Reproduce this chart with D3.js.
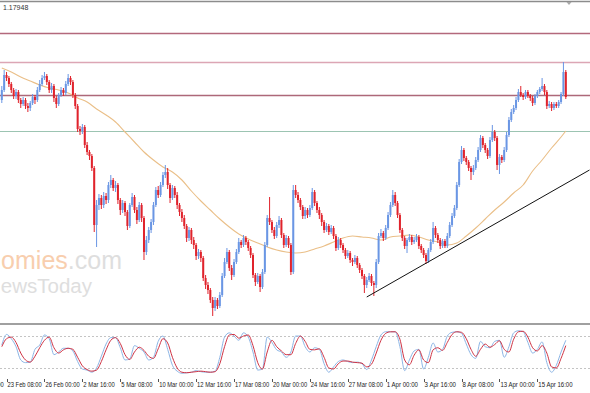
<!DOCTYPE html>
<html>
<head>
<meta charset="utf-8">
<script src="https://cdn.jsdelivr.net/npm/d3@7"></script>
<style>
  html, body { margin: 0; padding: 0; background: #fff; }
  svg { display: block; }
</style>
</head>
<body>
<div id="chart"></div>
<script>
// H4 candles, 239 bars (open of each bar = previous close)
const firstOpen = 1.1900;
const closes = [
  1.1910,1.1925,1.1922,1.1916,1.1910,1.1904,1.1908,1.1900,1.1896,1.1900,
  1.1894,1.1892,1.1897,1.1903,1.1900,1.1910,1.1916,1.1922,1.1924,1.1918,
  1.1910,1.1914,1.1902,1.1896,1.1905,1.1910,1.1907,1.1916,1.1922,1.1918,
  1.1905,1.1894,1.1871,1.1869,1.1873,1.1855,1.1848,1.1844,1.1832,1.1775,
  1.1795,1.1802,1.1795,1.1804,1.1800,1.1815,1.1820,1.1812,1.1815,1.1800,
  1.1790,1.1797,1.1788,1.1774,1.1795,1.1803,1.1790,1.1780,1.1795,1.1782,
  1.1748,1.1760,1.1770,1.1778,1.1795,1.1810,1.1805,1.1815,1.1825,1.1828,
  1.1815,1.1802,1.1812,1.1805,1.1795,1.1788,1.1782,1.1774,1.1762,1.1770,
  1.1760,1.1755,1.1744,1.1748,1.1742,1.1722,1.1715,1.1710,1.1700,1.1692,
  1.1700,1.1694,1.1705,1.1724,1.1738,1.1748,1.1732,1.1725,1.1738,1.1748,
  1.1758,1.1755,1.1762,1.1758,1.1752,1.1745,1.1725,1.1718,1.1724,1.1713,
  1.1728,1.1755,1.1782,1.1778,1.1770,1.1764,1.1775,1.1780,1.1765,1.1755,
  1.1762,1.1755,1.1728,1.1810,1.1805,1.1800,1.1793,1.1784,1.1790,1.1785,
  1.1792,1.1808,1.1797,1.1790,1.1785,1.1778,1.1770,1.1774,1.1768,1.1772,
  1.1764,1.1752,1.1760,1.1755,1.1750,1.1744,1.1747,1.1740,1.1738,1.1742,
  1.1735,1.1730,1.1724,1.1715,1.1720,1.1724,1.1717,1.1715,1.1738,1.1764,
  1.1767,1.1762,1.1772,1.1785,1.1795,1.1805,1.1797,1.1785,1.1770,1.1762,
  1.1754,1.1760,1.1763,1.1758,1.1760,1.1763,1.1754,1.1750,1.1745,1.1739,
  1.1750,1.1758,1.1772,1.1765,1.1760,1.1754,1.1759,1.1754,1.1764,1.1775,
  1.1784,1.1792,1.1815,1.1838,1.1850,1.1842,1.1838,1.1832,1.1828,1.1832,
  1.1840,1.1850,1.1862,1.1855,1.1850,1.1844,1.1860,1.1868,1.1862,1.1835,
  1.1843,1.1840,1.1850,1.1865,1.1880,1.1888,1.1892,1.1900,1.1908,1.1905,
  1.1903,1.1908,1.1904,1.1902,1.1897,1.1904,1.1908,1.1911,1.1914,1.1908,
  1.1894,1.1896,1.1892,1.1896,1.1894,1.1898,1.1906,1.1928,1.1903
];
const highs = [
  1.1914,1.1930,1.1928,1.1924,1.1918,1.1912,1.1911,1.1910,1.1902,1.1903,
  1.1902,1.1897,1.1899,1.1906,1.1905,1.1913,1.1920,1.1925,1.1928,1.1926,
  1.1920,1.1917,1.1916,1.1904,1.1907,1.1913,1.1912,1.1919,1.1926,1.1924,
  1.1920,1.1907,1.1896,1.1874,1.1876,1.1875,1.1858,1.1850,1.1846,1.1834,
  1.1800,1.1806,1.1805,1.1808,1.1807,1.1818,1.1825,1.1822,1.1819,1.1817,
  1.1802,1.1800,1.1799,1.1790,1.1797,1.1807,1.1805,1.1793,1.1798,1.1797,
  1.1784,1.1764,1.1773,1.1781,1.1798,1.1813,1.1814,1.1818,1.1828,1.1835,
  1.1832,1.1817,1.1815,1.1814,1.1808,1.1797,1.1791,1.1785,1.1776,1.1773,
  1.1772,1.1763,1.1757,1.1751,1.1750,1.1744,1.1725,1.1718,1.1712,1.1703,
  1.1703,1.1702,1.1708,1.1727,1.1742,1.1752,1.1750,1.1735,1.1741,1.1751,
  1.1762,1.1760,1.1765,1.1764,1.1760,1.1754,1.1747,1.1727,1.1727,1.1726,
  1.1731,1.1758,1.1785,1.1803,1.1780,1.1773,1.1778,1.1784,1.1782,1.1767,
  1.1765,1.1764,1.1757,1.1815,1.1815,1.1808,1.1802,1.1795,1.1793,1.1792,
  1.1795,1.1812,1.1810,1.1799,1.1793,1.1787,1.1780,1.1777,1.1776,1.1775,
  1.1774,1.1766,1.1763,1.1762,1.1757,1.1752,1.1750,1.1749,1.1742,1.1745,
  1.1744,1.1737,1.1732,1.1726,1.1723,1.1727,1.1726,1.1719,1.1741,1.1767,
  1.1771,1.1769,1.1775,1.1788,1.1798,1.1810,1.1808,1.1799,1.1787,1.1772,
  1.1764,1.1762,1.1766,1.1765,1.1763,1.1766,1.1765,1.1756,1.1752,1.1747,
  1.1752,1.1761,1.1778,1.1774,1.1767,1.1762,1.1761,1.1761,1.1767,1.1778,
  1.1787,1.1795,1.1818,1.1841,1.1854,1.1852,1.1844,1.1840,1.1834,1.1835,
  1.1843,1.1853,1.1865,1.1864,1.1857,1.1852,1.1863,1.1875,1.1870,1.1864,
  1.1846,1.1845,1.1853,1.1868,1.1883,1.1891,1.1895,1.1903,1.1911,1.1914,
  1.1907,1.1910,1.1910,1.1906,1.1904,1.1906,1.1910,1.1913,1.1922,1.1916,
  1.1910,1.1899,1.1898,1.1898,1.1898,1.1900,1.1908,1.1938,1.1930
];
const lows = [
  1.1897,1.1908,1.1919,1.1913,1.1907,1.1901,1.1901,1.1897,1.1892,1.1894,
  1.1891,1.1888,1.1889,1.1895,1.1896,1.1898,1.1908,1.1914,1.1920,1.1915,
  1.1907,1.1907,1.1898,1.1892,1.1894,1.1903,1.1904,1.1905,1.1914,1.1915,
  1.1902,1.1891,1.1868,1.1865,1.1866,1.1852,1.1845,1.1840,1.1829,1.1768,
  1.1753,1.1790,1.1791,1.1792,1.1796,1.1797,1.1812,1.1809,1.1808,1.1796,
  1.1785,1.1787,1.1784,1.1770,1.1772,1.1793,1.1787,1.1776,1.1778,1.1778,
  1.1740,1.1745,1.1757,1.1767,1.1775,1.1793,1.1802,1.1803,1.1813,1.1822,
  1.1811,1.1797,1.1800,1.1802,1.1791,1.1784,1.1778,1.1771,1.1758,1.1759,
  1.1756,1.1751,1.1740,1.1741,1.1738,1.1719,1.1711,1.1706,1.1697,1.1684,
  1.1689,1.1691,1.1692,1.1703,1.1722,1.1736,1.1729,1.1720,1.1723,1.1736,
  1.1746,1.1752,1.1753,1.1755,1.1749,1.1742,1.1722,1.1714,1.1716,1.1708,
  1.1711,1.1726,1.1753,1.1775,1.1767,1.1761,1.1762,1.1772,1.1762,1.1752,
  1.1753,1.1752,1.1725,1.1726,1.1802,1.1797,1.1790,1.1781,1.1781,1.1782,
  1.1783,1.1790,1.1794,1.1787,1.1781,1.1774,1.1767,1.1768,1.1765,1.1766,
  1.1761,1.1749,1.1750,1.1752,1.1747,1.1741,1.1742,1.1737,1.1734,1.1736,
  1.1732,1.1727,1.1721,1.1707,1.1712,1.1718,1.1714,1.1704,1.1712,1.1736,
  1.1762,1.1759,1.1760,1.1770,1.1783,1.1793,1.1794,1.1782,1.1767,1.1759,
  1.1751,1.1747,1.1758,1.1755,1.1756,1.1758,1.1751,1.1747,1.1742,1.1736,
  1.1737,1.1748,1.1756,1.1762,1.1757,1.1751,1.1752,1.1752,1.1752,1.1762,
  1.1773,1.1782,1.1790,1.1813,1.1836,1.1839,1.1835,1.1829,1.1820,1.1825,
  1.1830,1.1838,1.1848,1.1852,1.1847,1.1841,1.1842,1.1858,1.1859,1.1830,
  1.1826,1.1837,1.1838,1.1848,1.1863,1.1878,1.1886,1.1890,1.1898,1.1903,
  1.1900,1.1901,1.1902,1.1899,1.1894,1.1895,1.1902,1.1906,1.1909,1.1905,
  1.1891,1.1892,1.1889,1.1890,1.1892,1.1892,1.1896,1.1904,1.1901
];

// Moving average, read every 4th bar
const maBars = [
  0,4,8,12,16,20,24,28,32,36,40,44,48,52,56,60,64,68,72,76,
  80,84,88,92,96,100,104,108,112,116,120,124,128,132,136,140,144,148,152,156,
  160,164,168,172,176,180,184,188,192,196,200,204,208,212,216,220,224,228,232,236,238
];
const maValues = [
  1.1932,1.1928,1.1923,1.1919,1.1915,1.1912,1.1910,1.1907,1.1902,1.1898,
  1.1891,1.1885,1.1878,1.1868,1.1858,1.1848,1.1840,1.1833,1.1828,1.1820,
  1.1809,1.1799,1.1790,1.1781,1.1773,1.1766,1.1761,1.1757,1.1753,1.1750,
  1.1748,1.1747,1.1748,1.1751,1.1754,1.1758,1.1762,1.1764,1.1763,1.1762,
  1.1760,1.1763,1.1764,1.1765,1.1763,1.1760,1.1758,1.1755,1.1757,1.1764,
  1.1772,1.1781,1.1790,1.1798,1.1807,1.1815,1.1829,1.1840,1.1852,1.1863,1.1869
];

// Horizontal levels and trend line
const levels = [1.1967, 1.1938, 1.1905, 1.1869];
const levelColors = ["#b3697c", "#dca6b5", "#ad6879", "#9cc4b2"];
const trendBars = [154, 248];
const trendPrices = [1.1703, 1.1830];

// Stochastic oscillator, read every 2nd bar
const stochStep = 2;
const stochMain = [
  63,83,75,60,35,30,31,55,63,82,75,45,50,57,57,52,32,18,16,12,
  20,42,65,77,77,58,35,37,62,57,50,35,40,70,80,55,25,14,10,11,
  12,15,13,12,12,14,40,78,86,80,72,86,78,50,16,18,78,68,54,50,
  40,50,80,80,60,50,58,55,28,12,22,32,35,32,30,31,28,17,35,60,
  82,88,88,88,60,15,35,52,55,18,40,67,50,55,80,87,88,85,65,45,
  38,70,60,58,70,72,40,60,86,90,88,68,48,55,69,30,12,25,50,72
];
const stochSignal = [
  60,75,78,68,48,35,31,42,58,72,78,58,48,54,57,55,40,24,17,14,
  16,32,54,72,77,66,45,36,50,59,53,42,38,56,75,67,40,20,12,11,
  12,13,14,13,12,13,28,60,82,83,76,80,82,62,30,18,50,72,60,52,
  45,45,66,80,70,55,54,56,40,20,18,28,33,33,31,30,29,22,27,48,
  72,85,88,88,74,35,26,44,54,35,30,54,58,53,68,83,88,87,75,55,
  42,55,65,59,64,71,55,50,74,88,89,78,58,52,62,48,22,20,38,62
];
const stochLevels = [80, 20];

// Time axis: one label every 16 bars
const tickBars = [-14,2,18,34,50,66,82,98,114,130,146,162,178,194,210,226];
const tickLabels = [
  "18 Feb 16:00","23 Feb 08:00","26 Feb 00:00","2 Mar 16:00","5 Mar 08:00",
  "10 Mar 00:00","12 Mar 16:00","17 Mar 08:00","20 Mar 00:00","24 Mar 16:00",
  "27 Mar 08:00","1 Apr 00:00","3 Apr 16:00","8 Apr 08:00","13 Apr 00:00","15 Apr 16:00"
];

const width = 590;
const height = 393;

const bars = closes.map((c, i) => ({
  i,
  open: i === 0 ? firstOpen : closes[i - 1],
  close: c,
  high: highs[i],
  low: lows[i]
}));

const svg = d3.select("#chart")
  .append("svg")
    .attr("width", width)
    .attr("height", height)
    .attr("viewBox", [0, 0, width, height])
    .style("font-family", "'Liberation Sans', Arial, sans-serif");

const x = d3.scaleLinear().domain([0, 238]).range([1.8, 565.8]);
const y = d3.scaleLinear().domain([1.1680, 1.1998]).range([320, 2]);
const ys = d3.scaleLinear().domain([0, 100]).range([378.6, 325.4]);

// watermark
const wm = svg.append("g").attr("opacity", 0.85);
const wm1 = wm.append("text")
    .attr("x", 122).attr("y", 269)
    .attr("text-anchor", "end")
    .attr("font-size", 25);
wm1.append("tspan").attr("fill", "#f7c6a0").text("economies");
wm1.append("tspan").attr("fill", "#d9d9d9").text(".com");
wm.append("text")
    .attr("x", 92).attr("y", 293)
    .attr("text-anchor", "end")
    .attr("font-size", 20.5)
    .attr("fill", "#d9d9d9")
    .text("NewsToday");

// frame lines
svg.append("line")
    .attr("x1", 0).attr("x2", width).attr("y1", 1.5).attr("y2", 1.5)
    .attr("stroke", "#8c8c8c").attr("stroke-width", 1.5);
svg.append("line")
    .attr("x1", 0).attr("x2", width).attr("y1", 324).attr("y2", 324)
    .attr("stroke", "#a0a0a0").attr("stroke-width", 2.2);
svg.append("path")
    .attr("d", "M566.5,2 L571.5,2 L569,5 Z")
    .attr("fill", "#a8a8a8");

// horizontal levels
svg.append("g").selectAll("line")
  .data(levels)
  .join("line")
    .attr("x1", 0).attr("x2", width)
    .attr("y1", d => y(d) + 0.5).attr("y2", d => y(d) + 0.5)
    .attr("stroke", (d, i) => levelColors[i])
    .attr("stroke-width", (d, i) => i === 3 ? 1 : 1.5);

// moving average
const maLine = d3.line()
    .x((d, i) => x(maBars[i]))
    .y(d => y(d))
    .curve(d3.curveMonotoneX);
svg.append("path")
    .attr("d", maLine(maValues))
    .attr("fill", "none")
    .attr("stroke", "#eabf88")
    .attr("stroke-width", 1.1);

// candles
const bull = "#6a96e4";
const bear = "#e0232c";
const candle = svg.append("g").selectAll("g")
  .data(bars)
  .join("g");

candle.append("line")
    .attr("x1", d => x(d.i)).attr("x2", d => x(d.i))
    .attr("y1", d => y(d.high)).attr("y2", d => y(d.low))
    .attr("stroke", d => d.close >= d.open ? bull : bear)
    .attr("stroke-width", 1);

candle.append("rect")
    .attr("x", d => x(d.i) - 1)
    .attr("width", 2)
    .attr("y", d => y(Math.max(d.open, d.close)))
    .attr("height", d => Math.max(1, Math.abs(y(d.open) - y(d.close))))
    .attr("fill", d => d.close >= d.open ? bull : bear);

// trend line
svg.append("line")
    .attr("x1", x(trendBars[0])).attr("y1", y(trendPrices[0]))
    .attr("x2", x(trendBars[1])).attr("y2", y(trendPrices[1]))
    .attr("stroke", "#111")
    .attr("stroke-width", 1);

// price label
svg.append("text")
    .attr("x", 3).attr("y", 10)
    .attr("font-size", 7)
    .attr("fill", "#333")
    .text("1.17948");

// stochastic
svg.append("g").selectAll("line")
  .data(stochLevels)
  .join("line")
    .attr("x1", 0).attr("x2", width)
    .attr("y1", d => Math.round(ys(d)) + 0.5).attr("y2", d => Math.round(ys(d)) + 0.5)
    .attr("stroke", "#c4c4c4")
    .attr("stroke-dasharray", "2,2");

const stochLine = d3.line()
    .x((d, i) => x(i * stochStep))
    .y(d => ys(d))
    .curve(d3.curveMonotoneX);

svg.append("path")
    .attr("d", stochLine(stochMain))
    .attr("fill", "none")
    .attr("stroke", "#8db6e6")
    .attr("stroke-width", 1);
svg.append("path")
    .attr("d", stochLine(stochSignal))
    .attr("fill", "none")
    .attr("stroke", "#cf3344")
    .attr("stroke-width", 1);

// time axis
const axis = svg.append("g");
axis.selectAll("line")
  .data(tickBars)
  .join("line")
    .attr("x1", d => Math.round(x(d)) + 0.5).attr("x2", d => Math.round(x(d)) + 0.5)
    .attr("y1", 379).attr("y2", 382)
    .attr("stroke", "#555");
axis.selectAll("text")
  .data(tickBars)
  .join("text")
    .attr("x", d => x(d) + 1)
    .attr("y", 386.5)
    .attr("font-size", 6.3)
    .attr("fill", "#222")
    .attr("textLength", (d, i) => tickLabels[i].length * 2.85)
    .attr("lengthAdjust", "spacingAndGlyphs")
    .text((d, i) => tickLabels[i]);
</script>
</body>
</html>
